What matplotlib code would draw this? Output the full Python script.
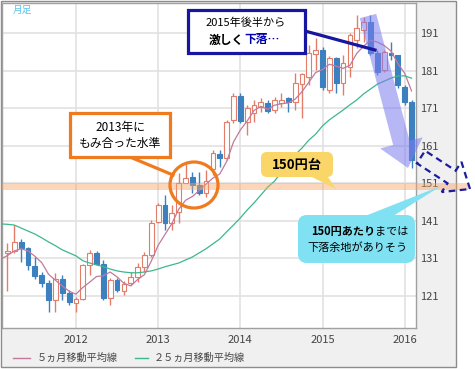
import matplotlib
matplotlib.use("Agg")
import matplotlib.pyplot as plt
import matplotlib.patches as mpatches
import matplotlib.transforms as mtransforms
from matplotlib.lines import Line2D
import numpy as np
import pandas as pd

plt.rcParams['font.family'] = ['Noto Sans CJK JP', 'DejaVu Sans']

# monthly candles, Mar 2011 .. Feb 2016
first_month = "2011-03"
opens = [132.5, 133.0, 135.4, 133.8, 129.0, 126.6, 124.5, 120.0, 125.6, 121.9,
         119.2, 120.3, 129.3, 132.5, 129.6, 120.5, 125.3, 122.4, 124.5, 126.1,
         128.8, 132.0, 140.7, 145.3, 140.5, 143.4, 151.1, 152.7, 150.6, 148.4,
         154.9, 158.8, 157.8, 167.9, 174.2, 167.3, 169.7, 171.3, 172.4, 170.5,
         172.4, 173.7, 172.6, 177.4, 179.3, 185.4, 186.5, 175.8, 184.4, 177.7,
         182.0, 189.1, 191.8, 193.9, 185.7, 181.2, 185.7, 185.1, 176.6, 172.6]
highs = [135.1, 139.9, 136.2, 134.1, 131.4, 127.4, 125.3, 127.2, 126.6, 122.6,
         120.8, 129.6, 133.3, 133.0, 130.6, 125.8, 125.8, 125.0, 127.4, 129.8,
         132.8, 141.3, 145.8, 147.9, 145.3, 153.8, 156.4, 154.0, 154.0, 154.6,
         159.9, 159.9, 167.9, 175.0, 175.0, 171.9, 173.2, 173.7, 173.2, 174.0,
         175.0, 174.0, 180.4, 180.4, 187.8, 189.7, 187.3, 184.9, 184.6, 185.1,
         191.0, 195.8, 195.3, 195.8, 186.5, 186.5, 188.6, 185.1, 177.2, 173.2]
lows = [122.4, 132.5, 130.1, 128.0, 125.6, 123.4, 116.8, 116.8, 120.0, 118.7,
        116.8, 120.0, 126.6, 129.3, 120.0, 118.7, 122.1, 121.3, 124.0, 124.8,
        127.4, 131.4, 140.5, 138.6, 138.6, 140.5, 151.1, 148.4, 147.9, 147.4,
        153.2, 155.4, 157.2, 167.1, 167.1, 163.9, 167.3, 170.0, 169.7, 169.7,
        171.3, 170.0, 170.5, 168.4, 177.2, 181.2, 175.8, 175.0, 175.0, 174.5,
        179.3, 187.0, 188.6, 185.1, 179.8, 180.6, 183.8, 176.4, 171.9, 155.1]
closes = [133.0, 135.4, 133.8, 129.3, 126.4, 124.5, 120.0, 125.6, 121.9, 119.5,
          120.3, 129.3, 132.5, 129.6, 120.5, 125.3, 122.6, 124.2, 126.1, 128.8,
          132.0, 140.5, 145.3, 140.5, 143.1, 151.1, 152.4, 150.6, 148.4, 151.6,
          159.1, 157.8, 167.3, 174.2, 167.6, 171.1, 171.9, 172.6, 170.3, 173.2,
          173.2, 172.6, 177.7, 180.1, 185.7, 186.5, 176.6, 184.4, 177.7, 183.0,
          190.5, 192.3, 193.9, 185.7, 180.6, 185.9, 185.1, 177.2, 172.6, 157.2]

# moving averages, starting one month earlier (Feb 2011)
ma5 = [130.8, 131.8, 133.0, 133.6, 133.0, 131.6, 129.9, 126.8, 125.2, 123.7, 122.3,
       121.5, 123.3, 124.7, 126.2, 126.4, 127.4, 126.1, 124.4, 123.7, 125.4,
       126.7, 130.3, 134.5, 137.4, 140.3, 144.1, 146.5, 147.5, 149.1, 150.8,
       152.4, 153.5, 156.8, 162.0, 165.2, 167.6, 170.4, 171.5, 170.7, 171.8,
       172.2, 172.4, 173.4, 175.4, 177.9, 180.5, 181.3, 182.7, 182.2, 181.6,
       182.4, 185.6, 187.5, 189.1, 188.6, 187.7, 186.2, 182.9, 180.3, 175.6]
ma25 = [140.2, 140.1, 139.9, 139.1, 138.3, 137.5, 136.5, 135.4, 134.4, 133.3, 132.5,
        131.7, 130.4, 129.8, 129.3, 128.8, 128.2, 127.7, 127.4, 127.2, 127.2,
        127.4, 127.7, 128.2, 128.8, 129.3, 129.8, 130.6, 131.4, 132.5, 133.6,
        134.9, 136.2, 138.1, 139.9, 141.8, 143.9, 145.8, 147.9, 150.0, 151.6,
        154.0, 156.4, 158.6, 160.4, 162.5, 164.1, 166.3, 167.9, 169.2, 170.5,
        171.9, 173.2, 174.8, 176.1, 177.4, 178.2, 179.0, 179.6, 179.6, 179.0]

y_ticks = [121, 131, 141, 151, 161, 171, 181, 191]
band_low, band_high = 149.2, 151.1

W, H = 475, 369
UP, DOWN = '#e27d6a', '#3d80c0'

months = pd.period_range(first_month, periods=len(closes), freq='M')
x = np.arange(len(closes))
o = np.array(opens); c = np.array(closes)
up = c >= o

fig = plt.figure(figsize=(W / 100, H / 100), dpi=100)
pix = mtransforms.Affine2D().scale(1 / W, -1 / H).translate(0, 1) + fig.transFigure

# gray frame behind everything
fig.add_artist(mpatches.Rectangle((1, 1), 455, 366, transform=pix, fc='#f0f0f0',
                                  ec='#8c8c8c', lw=1, zorder=-5))

ax = fig.add_axes([2 / W, 1 - 328 / H, 414 / W, 325 / H])
ax.set_facecolor('white')

ax.vlines(x[up], np.array(lows)[up], np.array(highs)[up], color=UP, lw=1, zorder=2)
ax.vlines(x[~up], np.array(lows)[~up], np.array(highs)[~up], color=DOWN, lw=1, zorder=2)
bottoms = np.minimum(o, c)
heights = np.maximum(np.abs(c - o), 0.3)
ax.bar(x[up], heights[up], bottom=bottoms[up], width=0.7, facecolor='white',
       edgecolor=UP, linewidth=0.8, zorder=3)
ax.bar(x[~up], heights[~up], bottom=bottoms[~up], width=0.7, facecolor=DOWN,
       edgecolor=DOWN, linewidth=0.8, zorder=3)

ma_x = np.arange(-1, len(closes))
ax.plot(ma_x, ma5, color='#c27a9c', lw=0.9, zorder=4)
ax.plot(ma_x, ma25, color='#3cb88a', lw=0.9, zorder=4)

jan = [i for i, m in enumerate(months) if m.month == 1]
ax.set_xticks(jan)
ax.set_xticklabels([str(months[i].year) for i in jan])
ax.set_yticks(y_ticks)
ax.yaxis.tick_right()
ax.set_xlim(-0.8, 59.65)
ax.set_ylim(112.5, 199.0)
ax.tick_params(axis='both', length=0, labelsize=8, colors='#444444')
ax.tick_params(axis='y', pad=3)
ax.tick_params(axis='x', pad=5)
ax.grid(True, color='#e2e2e2', lw=1.2)
ax.set_axisbelow(True)
for s in ax.spines.values():
    s.set_color('#a0a0a0')
    s.set_linewidth(1)

fig.text(13, 10, '月足', transform=pix, fontsize=7, color='#5cc4ea', va='center')

# 150 yen band across the whole chart
band_tr = mtransforms.blended_transform_factory(fig.transFigure, ax.transData)
fig.add_artist(mpatches.Rectangle((2 / W, band_low), 466 / W, band_high - band_low,
                                  transform=band_tr, fc='#f7a466', ec='none',
                                  alpha=0.45, zorder=5))

# big translucent down arrow
fig.add_artist(mpatches.FancyArrow(368, 16, 40, 152, width=17, head_width=44,
                                   head_length=26, length_includes_head=True,
                                   fc='#7c7cf0', ec='none', alpha=0.55,
                                   transform=pix, zorder=5))

# dashed hollow arrow to the right
fig.add_artist(mpatches.FancyArrow(421, 157, 49, 32, width=15, head_width=36,
                                   head_length=22, length_includes_head=True,
                                   fill=False, ec='#1c1ca0', lw=1.6,
                                   ls=(0, (3, 2)), transform=pix, zorder=6))

# orange callout
ORANGE = '#f07a1e'
fig.add_artist(Line2D([130, 173], [157, 175], transform=pix, color=ORANGE, lw=2.3, zorder=6))
fig.add_artist(mpatches.Ellipse((194, 185), 48, 46, transform=pix, fill=False,
                                ec=ORANGE, lw=2.3, zorder=6))
fig.add_artist(mpatches.FancyBboxPatch((70, 113), 100, 44, boxstyle='square,pad=0',
                                       transform=pix, fc='white', ec=ORANGE, lw=2.3, zorder=7))
fig.text(120, 127, '2013年に', transform=pix, fontsize=8.5, ha='center', va='center', zorder=8)
fig.text(120, 143, 'もみ合った水準', transform=pix, fontsize=8.5, ha='center', va='center', zorder=8)

# blue callout
NAVY = '#1616a0'
fig.add_artist(Line2D([305, 375], [31, 50], transform=pix, color=NAVY, lw=2.3, zorder=6))
fig.add_artist(mpatches.FancyBboxPatch((188, 10), 117, 43, boxstyle='square,pad=0',
                                       transform=pix, fc='white', ec=NAVY, lw=2.3, zorder=7))
fig.text(246, 23, '2015年後半から', transform=pix, fontsize=8, ha='center', va='center', zorder=8)
fig.text(244, 40, '激しく', transform=pix, fontsize=8.5, fontweight='bold',
         ha='right', va='center', zorder=8)
fig.text(244, 40, '下落…', transform=pix, fontsize=8.5, fontweight='bold',
         color='#0000b0', ha='left', va='center', zorder=8)

# yellow label
YEL = '#f9d667'
fig.add_artist(mpatches.Polygon([(306, 174), (326, 174), (336, 189)], closed=True,
                                transform=pix, fc=YEL, ec='none', zorder=7))
fig.add_artist(mpatches.FancyBboxPatch((261, 152), 72, 25,
                                       boxstyle='round,pad=0,rounding_size=6',
                                       transform=pix, fc=YEL, ec='none', zorder=7))
fig.text(297, 165, '150円台', transform=pix, fontsize=9.5, fontweight='bold',
         ha='center', va='center', zorder=8)

# cyan callout
CYAN = '#7fe1f1'
fig.add_artist(mpatches.Polygon([(360, 218), (390, 218), (441, 186)], closed=True,
                                transform=pix, fc=CYAN, ec='none', zorder=7))
fig.add_artist(mpatches.FancyBboxPatch((298, 215), 117, 48,
                                       boxstyle='round,pad=0,rounding_size=9',
                                       transform=pix, fc=CYAN, ec='none', zorder=7))
fig.text(375, 231, '150円あたり', transform=pix, fontsize=8, fontweight='bold',
         ha='right', va='center', zorder=8)
fig.text(375, 231, 'までは', transform=pix, fontsize=8, ha='left', va='center', zorder=8)
fig.text(357, 248, '下落余地がありそう', transform=pix, fontsize=8, ha='center',
         va='center', zorder=8)

# legend
fig.add_artist(Line2D([13, 30], [358, 358], transform=pix, color='#c27a9c', lw=1))
fig.text(37, 358, '５ヵ月移動平均線', transform=pix, fontsize=7.3, color='#444444', va='center')
fig.add_artist(Line2D([135, 148], [358, 358], transform=pix, color='#3cb88a', lw=1))
fig.text(154, 358, '２５ヵ月移動平均線', transform=pix, fontsize=7.3, color='#444444', va='center')

fig.savefig('out.png', dpi=100)
